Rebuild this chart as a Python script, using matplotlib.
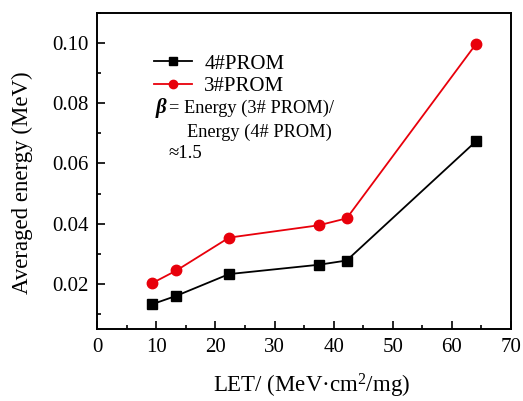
import matplotlib
matplotlib.use("Agg")
import matplotlib.pyplot as plt
from matplotlib.ticker import MultipleLocator

plt.rcParams['font.family'] = ['Liberation Serif', 'DejaVu Serif']
plt.rcParams['mathtext.fontset'] = 'custom'
plt.rcParams['mathtext.rm'] = 'Liberation Serif'
plt.rcParams['mathtext.it'] = 'Liberation Serif:italic:bold'

let = [9.3, 13.4, 22.3, 37.5, 42.2, 64.1]
prom4 = [0.0133, 0.0161, 0.0233, 0.0264, 0.0278, 0.0674]
prom3 = [0.0203, 0.0245, 0.0354, 0.0395, 0.0418, 0.0997]
yticks = [0.02, 0.04, 0.06, 0.08, 0.10]
ytick_labels = ['0.02', '0.04', '0.06', '0.08', '0.10']

fig = plt.figure(figsize=(5.23, 4.01), dpi=100)
ax = fig.add_axes([0.186, 0.179, 0.791, 0.789])

ax.plot(let, prom4, color='black', marker='s', markersize=7, linewidth=1.3, label='4#PROM')
ax.plot(let, prom3, color='#e8000b', marker='o', markersize=7.5, linewidth=1.3, label='3#PROM')

ax.set_xlim(0, 70)
ax.set_ylim(0.005, 0.11)
ax.xaxis.set_major_locator(MultipleLocator(10))
ax.xaxis.set_minor_locator(MultipleLocator(5))
ax.yaxis.set_minor_locator(MultipleLocator(0.01))
ax.set_yticks(yticks)
ax.set_yticklabels(ytick_labels)
ax.tick_params(which='both', direction='in', top=False, right=False, labelsize=15, width=1.2)
ax.tick_params(which='major', length=6)
ax.tick_params(axis='y', which='major', pad=6)
ax.tick_params(axis='x', which='major', pad=6)
ax.tick_params(which='minor', length=3)
for s in ax.spines.values():
    s.set_linewidth(1.4)

ax.set_xlabel('LET/ (MeV·cm$^2$/mg)', fontsize=16.5)
ax.set_ylabel('Averaged energy (MeV)', fontsize=16.5)
ax.xaxis.set_label_coords(0.519, -0.135)
ax.yaxis.set_label_coords(-0.155, 0.464)

leg = ax.legend(loc='upper left', bbox_to_anchor=(0.138, 0.87), frameon=False, fontsize=15,
                handlelength=1.8, handletextpad=0.6, borderaxespad=0, borderpad=0,
                labelspacing=0.15, markerscale=0.8)

ax.text(0.139, 0.699, r'$\beta$', transform=ax.transAxes, fontsize=15, va='center', ha='left',
        fontstyle='italic', fontweight='bold')
ax.text(0.173, 0.699, '= Energy (3# PROM)/', transform=ax.transAxes, fontsize=13.2, va='center', ha='left')
ax.text(0.216, 0.623, 'Energy (4# PROM)', transform=ax.transAxes, fontsize=13.2, va='center', ha='left')
ax.text(0.171, 0.555, '\u22481.5', transform=ax.transAxes, fontsize=13.5, va='center', ha='left')

fig.savefig('out.png', dpi=100)
